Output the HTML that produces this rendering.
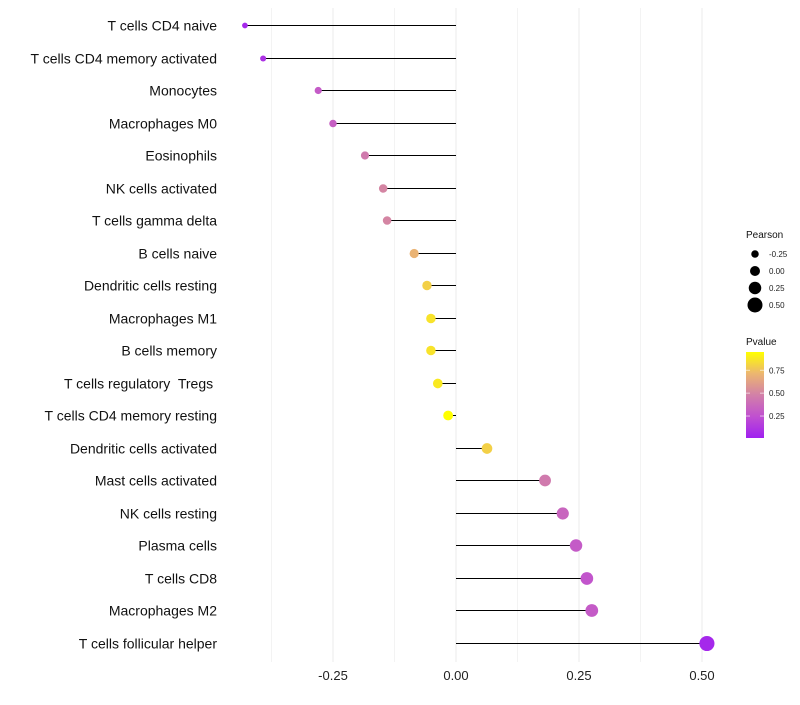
<!DOCTYPE html>
<html><head><meta charset="utf-8"><style>
body{margin:0;background:#fff;font-family:"Liberation Sans",sans-serif}
text{white-space:pre}
</style></head><body>
<svg id="c" width="800" height="700" style="font-family:'Liberation Sans',sans-serif"></svg>
<script>
const categories=["T cells CD4 naive","T cells CD4 memory activated","Monocytes","Macrophages M0","Eosinophils","NK cells activated","T cells gamma delta","B cells naive","Dendritic cells resting","Macrophages M1","B cells memory","T cells regulatory  Tregs ","T cells CD4 memory resting","Dendritic cells activated","Mast cells activated","NK cells resting","Plasma cells","T cells CD8","Macrophages M2","T cells follicular helper"];
const pearson=[-0.429,-0.392,-0.280,-0.250,-0.185,-0.148,-0.140,-0.085,-0.059,-0.051,-0.051,-0.037,-0.016,0.063,0.181,0.217,0.244,0.266,0.276,0.510];
const pvalue=[0.05,0.1,0.3,0.32,0.45,0.5,0.5,0.7,0.8,0.86,0.86,0.88,0.96,0.8,0.45,0.35,0.3,0.27,0.3,0.05];
const xTicks=[-0.25,0,0.25,0.5];
const xTickLabels=["-0.25","0.00","0.25","0.50"];
const sizeLegend=[-0.25,0,0.25,0.5];
const colorLegend=[0.25,0.5,0.75];
const NS="http://www.w3.org/2000/svg",svg=document.getElementById('c');
function el(t,a,p){const e=document.createElementNS(NS,t);for(const k in a)e.setAttribute(k,a[k]);(p||svg).appendChild(e);return e;}
const x=v=>456+v*492;
const y=i=>Math.round(25+i*32.5)+0.5;
const r=v=>5+5*v;
const stops=[[0,[160,32,240]],[0.25,[192,80,208]],[0.5,[210,128,168]],[0.75,[236,182,112]],[1,[255,255,0]]];
function col(p){const t=Math.max(0,Math.min(1,(p-0.01)/0.94));for(let i=1;i<stops.length;i++){if(t<=stops[i][0]){const a=stops[i-1],b=stops[i],f=(t-a[0])/(b[0]-a[0]);return `rgb(${a[1].map((c,j)=>Math.round(c+(b[1][j]-c)*f)).join(',')})`;}}return 'rgb(255,255,0)';}
[-0.375,-0.125,0.125,0.375].forEach(v=>{const g=el('line',{x1:x(v),x2:x(v),y1:8,y2:662,stroke:'#f3f3f3','stroke-width':1});});
xTicks.forEach((v,i)=>{const g=el('line',{x1:x(v),x2:x(v),y1:8,y2:662,stroke:'#ebebeb','stroke-width':1});
const t=el('text',{x:x(v),y:680,'text-anchor':'middle','font-size':13,fill:'#222'});t.textContent=xTickLabels[i];});
categories.forEach((c,i)=>{
const t=el('text',{x:217,y:y(i)+5,'text-anchor':'end','font-size':14,fill:'#111'});t.textContent=c;
const l=el('line',{x1:x(0),x2:x(pearson[i]),y1:y(i),y2:y(i),stroke:'#000','stroke-width':1});
const d=el('circle',{cx:x(pearson[i]),cy:y(i),r:Math.max(2,r(pearson[i])),fill:col(pvalue[i])});});
const lt=el('text',{x:746,y:238,'font-size':10,fill:'#111'});lt.textContent='Pearson';
sizeLegend.forEach((v,i)=>{const cy=254+i*17;const c=el('circle',{cx:755,cy:cy,r:r(v),fill:'#000'});
const t=el('text',{x:769,y:cy+3,'font-size':8,fill:'#222'});t.textContent=v.toFixed(2);});
const pt=el('text',{x:746,y:345,'font-size':10,fill:'#111'});pt.textContent='Pvalue';
const defs=el('defs',{});const lg=el('linearGradient',{id:'g',x1:0,y1:1,x2:0,y2:0},defs);
stops.forEach(s=>el('stop',{offset:s[0],'stop-color':`rgb(${s[1].join(',')})`},lg));
const cb=el('rect',{x:746,y:352,width:18,height:86,fill:'url(#g)'});
colorLegend.forEach(v=>{const yy=438-(v-0.01)/0.94*86;el('line',{x1:746,x2:750,y1:yy,y2:yy,stroke:'#fff','stroke-opacity':0.6});el('line',{x1:760,x2:764,y1:yy,y2:yy,stroke:'#fff','stroke-opacity':0.6});
const t=el('text',{x:769,y:yy+3,'font-size':8,fill:'#222'});t.textContent=v.toFixed(2);});
</script></body></html>
